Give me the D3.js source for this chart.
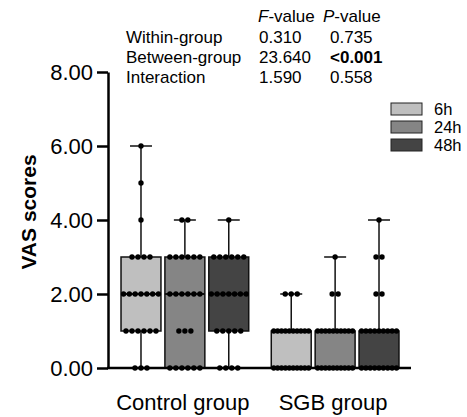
<!DOCTYPE html>
<html>
<head>
<meta charset="utf-8">
<script src="https://cdn.jsdelivr.net/npm/d3@7"></script>
<style>
  body { margin: 0; background: #fff; }
  svg { font-family: "Liberation Sans", Arial, sans-serif; }
</style>
</head>
<body>
<div class="fig"></div>
<script>
// groups and time points
var groups = ["Control group", "SGB group"];
var times = ["6h", "24h", "48h"];
var fills = ["#bfbfbf", "#858585", "#444444"];

// VAS score: [value, count] for each group/time
var control6h  = [[0,3],[1,6],[2,7],[3,4],[4,1],[5,1],[6,1]];
var control24h = [[0,6],[1,3],[2,6],[3,6],[4,2]];
var control48h = [[0,4],[1,5],[2,7],[3,6],[4,1]];
var sgb6h  = [[0,10],[1,10],[2,3]];
var sgb24h = [[0,10],[1,10],[2,2],[3,1]];
var sgb48h = [[0,9],[1,9],[2,2],[3,2],[4,1]];

// stats table
var statRows = ["Within-group", "Between-group", "Interaction"];
var fValues = ["0.310", "23.640", "1.590"];
var pValues = ["0.735", "<0.001", "0.558"];

var yTicks = [0, 2, 4, 6, 8];

var series = [
  {group: "Control group", time: "6h", counts: control6h},
  {group: "Control group", time: "24h", counts: control24h},
  {group: "Control group", time: "48h", counts: control48h},
  {group: "SGB group", time: "6h", counts: sgb6h},
  {group: "SGB group", time: "24h", counts: sgb24h},
  {group: "SGB group", time: "48h", counts: sgb48h}
];

// quartiles like prism: position (n+1)p
function q(sorted, p) {
  var pos = (sorted.length + 1) * p - 1;
  var lo = Math.floor(pos), hi = Math.ceil(pos);
  return sorted[lo] + (sorted[hi] - sorted[lo]) * (pos - lo);
}

series.forEach(function(s) {
  var vals = [];
  s.counts.forEach(function(c) { for (var i = 0; i < c[1]; i++) vals.push(c[0]); });
  vals.sort(d3.ascending);
  s.min = vals[0];
  s.max = vals[vals.length - 1];
  s.q1 = q(vals, 0.25);
  s.med = q(vals, 0.5);
  s.q3 = q(vals, 0.75);
});

var svg = d3.select(".fig").append("svg")
  .attr("width", 467)
  .attr("height", 417);

var y = d3.scaleLinear().domain([0, 8]).range([368, 72]);
var x0 = d3.scaleBand().domain(groups).range([109, 411])
  .paddingInner(0.15).paddingOuter(0.08);
var x1 = d3.scaleBand().domain(times).range([0, x0.bandwidth()])
  .paddingInner(0.09).paddingOuter(0);
var color = d3.scaleOrdinal().domain(times).range(fills);

var bw = x1.bandwidth();

var boxes = svg.append("g").selectAll("g")
  .data(series)
  .enter().append("g")
  .attr("transform", function(d) { return "translate(" + (x0(d.group) + x1(d.time)) + ",0)"; });

// whiskers
boxes.append("line")
  .attr("x1", bw / 2).attr("x2", bw / 2)
  .attr("y1", function(d) { return y(d.max); })
  .attr("y2", function(d) { return y(d.min); })
  .attr("stroke", "#111").attr("stroke-width", 1.5);
boxes.append("line")
  .attr("x1", bw / 2 - 11).attr("x2", bw / 2 + 11)
  .attr("y1", function(d) { return y(d.max); })
  .attr("y2", function(d) { return y(d.max); })
  .attr("stroke", "#111").attr("stroke-width", 1.5);

boxes.append("rect")
  .attr("x", 0)
  .attr("width", bw)
  .attr("y", function(d) { return y(d.q3); })
  .attr("height", function(d) { return y(d.q1) - y(d.q3); })
  .attr("fill", function(d) { return color(d.time); })
  .attr("stroke", "#111")
  .attr("stroke-width", 1.5);

boxes.append("line")
  .attr("x1", 0).attr("x2", bw)
  .attr("y1", function(d) { return y(d.med); })
  .attr("y2", function(d) { return y(d.med); })
  .attr("stroke", "#111").attr("stroke-width", 2);

// dots, spread side by side
boxes.each(function(d) {
  var pts = [];
  d.counts.forEach(function(c) {
    var n = c[1];
    var sp = n > 1 ? Math.min(6, (bw - 5) / (n - 1)) : 0;
    for (var i = 0; i < n; i++) {
      pts.push({ v: c[0], dx: bw / 2 + (i - (n - 1) / 2) * sp });
    }
  });
  d3.select(this).selectAll("circle")
    .data(pts)
    .enter().append("circle")
    .attr("cx", function(p) { return p.dx; })
    .attr("cy", function(p) { return y(p.v); })
    .attr("r", 2.7)
    .attr("fill", "#000");
});

// axes
var yAxis = svg.append("g")
  .attr("transform", "translate(108,0)")
  .call(d3.axisLeft(y).tickValues(yTicks).tickFormat(d3.format(".2f")).tickSize(11).tickSizeOuter(0));
yAxis.select(".domain").attr("stroke-width", 2.5);
yAxis.selectAll(".tick line").attr("stroke-width", 2.5);
yAxis.selectAll(".tick text")
  .attr("x", -15)
  .style("font-size", "22px")
  .style("font-family", "Liberation Sans, Arial, sans-serif")
  .attr("fill", "#000");

svg.append("line")
  .attr("x1", 107).attr("x2", 411)
  .attr("y1", y(0)).attr("y2", y(0))
  .attr("stroke", "#000").attr("stroke-width", 2.5);

svg.selectAll(".xlab")
  .data(groups)
  .enter().append("text")
  .attr("x", function(d) { return x0(d) + x0.bandwidth() / 2 - 2; })
  .attr("y", 410)
  .attr("text-anchor", "middle")
  .style("font-size", "22px")
  .text(function(d) { return d; });

svg.append("text")
  .attr("transform", "translate(36,212) rotate(-90)")
  .attr("text-anchor", "middle")
  .style("font-size", "21px")
  .style("font-weight", "bold")
  .text("VAS scores");

// stats table
var tbl = svg.append("g").style("font-size", "17px");
var head = tbl.append("text").attr("y", 22);
head.append("tspan").attr("x", 258).style("font-style", "italic").text("F");
head.append("tspan").text("-value");
var head2 = tbl.append("text").attr("y", 22);
head2.append("tspan").attr("x", 323).style("font-style", "italic").text("P");
head2.append("tspan").text("-value");

statRows.forEach(function(r, i) {
  var yy = 43 + i * 20;
  tbl.append("text").attr("x", 126).attr("y", yy).text(r);
  tbl.append("text").attr("x", 259).attr("y", yy).text(fValues[i]);
  tbl.append("text").attr("x", 330).attr("y", yy)
    .style("font-weight", pValues[i].charAt(0) === "<" ? "bold" : "normal")
    .text(pValues[i]);
});

// legend
var leg = svg.append("g").selectAll("g")
  .data(times)
  .enter().append("g")
  .attr("transform", function(d, i) { return "translate(391," + (103 + i * 18) + ")"; });
leg.append("rect")
  .attr("width", 31).attr("height", 12)
  .attr("fill", function(d) { return color(d); })
  .attr("stroke", "#222").attr("stroke-width", 1);
leg.append("text")
  .attr("x", 43).attr("y", 12)
  .style("font-size", "16.5px")
  .text(function(d) { return d; });
</script>
</body>
</html>
